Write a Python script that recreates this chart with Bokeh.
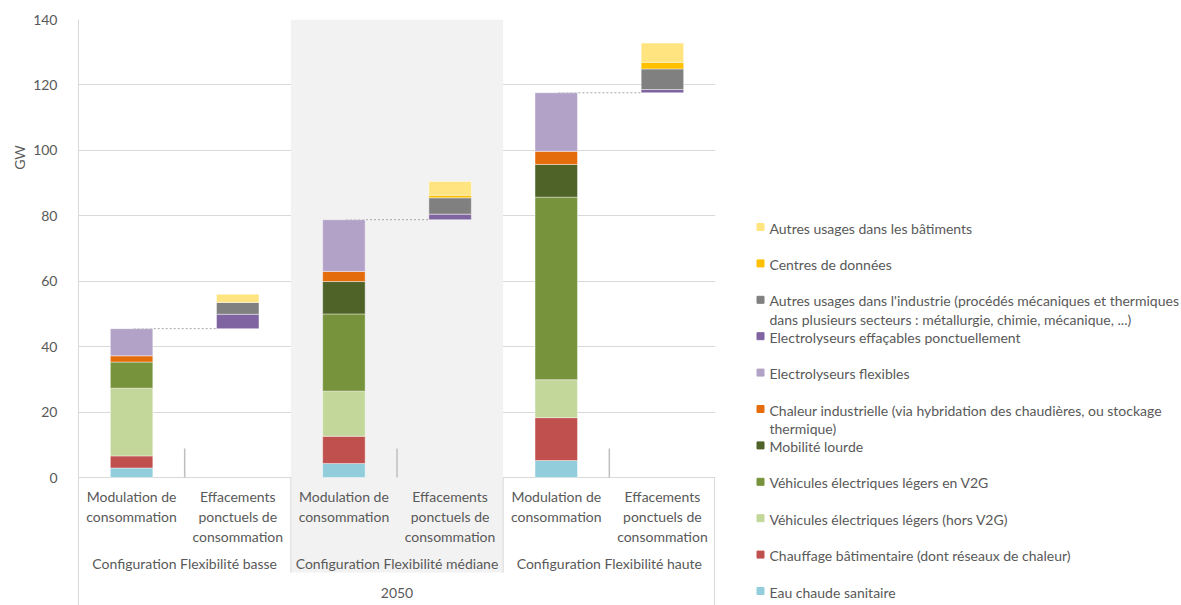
import math
from bokeh.plotting import figure
from bokeh.models import (FactorRange, Range1d, ColumnDataSource,
                          BoxAnnotation, FixedTicker)
from bokeh.layouts import row
from bokeh.embed import file_html
from bokeh.resources import INLINE
from bokeh.core.properties import value

# ---------------- data ----------------
year = "2050"
configs = ["Configuration Flexibilité basse",
           "Configuration Flexibilité médiane",
           "Configuration Flexibilité haute"]
kinds = ["Modulation de consommation", "Effacements ponctuels de consommation"]
kind_labels = ["Modulation de\nconsommation", "Effacements\nponctuels de\nconsommation"]

# values per category: basse-Mod, basse-Eff, médiane-Mod, médiane-Eff, haute-Mod, haute-Eff (GW)
eau_chaude = [2.9, 0, 4.3, 0, 5.2, 0]
chauffage = [3.7, 0, 8.3, 0, 13.1, 0]
ve_hors_v2g = [20.7, 0, 13.8, 0, 11.6, 0]
ve_v2g = [8.0, 0, 23.6, 0, 55.8, 0]
mobilite_lourde = [0, 0, 9.9, 0, 10.0, 0]
chaleur_indus = [1.9, 0, 3.1, 0, 4.0, 0]
electro_flex = [8.3, 0, 15.8, 0, 17.9, 0]
electro_eff = [0, 4.4, 0, 1.7, 0, 1.0]
autres_indus = [0, 3.6, 0, 5.0, 0, 6.3]
centres_donnees = [0, 0, 0, 0.8, 0, 2.0]
autres_batiments = [0, 2.5, 0, 4.2, 0, 5.9]

series_names = [
    "Eau chaude sanitaire",
    "Chauffage bâtimentaire (dont réseaux de chaleur)",
    "Véhicules électriques légers (hors V2G)",
    "Véhicules électriques légers en V2G",
    "Mobilité lourde",
    "Chaleur industrielle (via hybridation des chaudières, ou stockage\nthermique)",
    "Electrolyseurs flexibles",
    "Electrolyseurs effaçables ponctuellement",
    "Autres usages dans l'industrie (procédés mécaniques et thermiques\ndans plusieurs secteurs : métallurgie, chimie, mécanique, ...)",
    "Centres de données",
    "Autres usages dans les bâtiments",
]
series_values = [eau_chaude, chauffage, ve_hors_v2g, ve_v2g, mobilite_lourde,
                 chaleur_indus, electro_flex, electro_eff, autres_indus,
                 centres_donnees, autres_batiments]
series_colors = ["#92CDDC", "#C0504D", "#C4D79B", "#77933C", "#4F6228",
                 "#E46C0A", "#B3A2C7", "#8064A2", "#808080", "#FFC000", "#FFE480"]

y_ticks = [0, 20, 40, 60, 80, 100, 120, 140]
y_title = "GW"

# ---------------- style / layout ----------------
FONT = "Lato"
TXT = "#595959"
FS = "14px"
H = 605
TOP = 19                       # frame top (px)
PX_PER_UNIT = 458 / 140.0      # 0 -> 477 px, 140 -> 19 px
Y_BOTTOM = -(H - 477) / PX_PER_UNIT   # label area below the value axis
W_GW, W_MAIN = 30, 690
W_LEG = 1181 - W_GW - W_MAIN

factors = [(year, c, k) for c in configs for k in kinds]
n = len(factors)

# base of each column: effacements start at the top of the modulation column
mod_totals = [sum(v[i] for v in series_values) for i in range(n)]
base = [0.0] * n
for i in range(n):
    if i % 2 == 1:
        base[i] = mod_totals[i - 1]

yr = Range1d(Y_BOTTOM, y_ticks[-1])

# ---------------- main figure ----------------
p = figure(x_range=FactorRange(*factors, factor_padding=0, subgroup_padding=0,
                               group_padding=0, range_padding=0),
           y_range=yr, width=W_MAIN, height=H, output_backend="svg",
           toolbar_location=None, min_border_left=47, min_border_right=5,
           min_border_top=TOP, min_border_bottom=0)
p.outline_line_color = None
p.background_fill_color = "white"
p.xgrid.visible = False
p.xaxis.visible = False
p.yaxis.ticker = FixedTicker(ticks=y_ticks)
p.ygrid.ticker = FixedTicker(ticks=y_ticks)
p.ygrid.grid_line_color = "#d9d9d9"
p.yaxis.axis_line_color = "#d9d9d9"
p.yaxis.major_tick_line_color = None
p.yaxis.minor_tick_line_color = None
p.yaxis.major_label_text_font = FONT
p.yaxis.major_label_text_font_size = FS
p.yaxis.major_label_text_color = TXT
p.yaxis.major_label_standoff = 15

# shaded middle configuration (also behind its labels)
shade_bottom = -(572 - 477) / PX_PER_UNIT
p.add_layout(BoxAnnotation(left=2, right=4, bottom=shade_bottom,
                           fill_color="#f2f2f2", fill_alpha=1, line_color=None,
                           level="underlay"))

# separators of the label area
p.segment(x0=[(year, configs[0], kinds[1], 0.5), (year, configs[1], kinds[1], 0.5),
              (year, configs[2], kinds[1], 0.49)],
          y0=[0, 0, 0],
          x1=[(year, configs[0], kinds[1], 0.5), (year, configs[1], kinds[1], 0.5),
              (year, configs[2], kinds[1], 0.49)],
          y1=[shade_bottom, shade_bottom, Y_BOTTOM],
          line_color="#d9d9d9", line_width=1)

# tick marks between the two columns of each configuration
p.segment(x0=[(year, c, kinds[0], 0.5) for c in configs], y0=[0] * 3,
          x1=[(year, c, kinds[0], 0.5) for c in configs], y1=[29 / PX_PER_UNIT] * 3,
          line_color="#bfbfbf", line_width=1.5)

# dotted connectors
p.segment(x0=[(year, c, kinds[0], 0.02) for c in configs],
          y0=[mod_totals[2 * j] for j in range(3)],
          x1=[(year, c, kinds[1], -0.2) for c in configs],
          y1=[mod_totals[2 * j] for j in range(3)],
          line_color="#a6a6a6", line_dash="2 2", line_width=1)

# stacked bars
cum = list(base)
for name, vals, col in zip(series_names, series_values, series_colors):
    xs, bots, tops = [], [], []
    for i in range(n):
        if vals[i] > 0:
            xs.append(factors[i]); bots.append(cum[i]); tops.append(cum[i] + vals[i])
            cum[i] += vals[i]
    src = ColumnDataSource(dict(x=xs, bottom=bots, top=tops))
    p.vbar(x="x", bottom="bottom", top="top", width=0.4, source=src,
           fill_color=col, line_color="white", line_width=0.6, line_alpha=0.7)

# multi-level category labels
p.text(x=factors, y=[-(487 - 477) / PX_PER_UNIT] * n, text=kind_labels * len(configs),
       text_align="center", text_baseline="top", text_font=value(FONT),
       text_font_size=FS, text_color=TXT, text_line_height=1.18)
p.text(x=[(year, c) for c in configs], y=[-(563 - 477) / PX_PER_UNIT] * len(configs),
       text=configs, text_align="center", text_baseline="middle",
       text_font=value(FONT), text_font_size=FS, text_color=TXT)
p.text(x=[year], y=[-(592 - 477) / PX_PER_UNIT], text=[year], text_align="center",
       text_baseline="middle", text_font=value(FONT), text_font_size=FS, text_color=TXT)

# ---------------- y title ----------------
gw = figure(width=W_GW, height=H, output_backend="svg", toolbar_location=None,
            x_range=Range1d(0, W_GW), y_range=yr, min_border=0, min_border_top=TOP,
            x_axis_location=None, y_axis_location=None)
gw.outline_line_color = None
gw.grid.visible = False
gw.text(x=[18.5], y=[(477 - 157) / PX_PER_UNIT], text=[y_title], angle=math.pi / 2,
        text_align="center", text_baseline="middle", text_font=value(FONT),
        text_font_size=FS, text_color=TXT)

# ---------------- legend ----------------
PITCH = 36.4
Y0 = 226.5
leg = figure(width=W_LEG, height=H, output_backend="svg", toolbar_location=None,
             x_range=Range1d(0, W_LEG),
             y_range=Range1d((H - Y0) / PITCH, (TOP - Y0) / PITCH),
             min_border=0, min_border_top=TOP,
             x_axis_location=None, y_axis_location=None)
leg.outline_line_color = None
leg.grid.visible = False
order = list(range(len(series_names)))[::-1]
lsrc = ColumnDataSource(dict(
    idx=list(range(len(order))),
    ytext=[k - 7.4 / PITCH for k in range(len(order))],
    name=[series_names[k] for k in order],
    color=[series_colors[k] for k in order],
))
leg.scatter(x=40, y="idx", marker="square", size=7, fill_color="color",
            line_color="color", source=lsrc)
leg.text(x=49, y="ytext", text="name", source=lsrc, text_font=value(FONT),
         text_font_size=FS, text_color=TXT, text_baseline="top", text_align="left",
         text_line_height=1.08)

layout = row(gw, p, leg, spacing=0)
open("out.html", "w").write(file_html(layout, INLINE))
